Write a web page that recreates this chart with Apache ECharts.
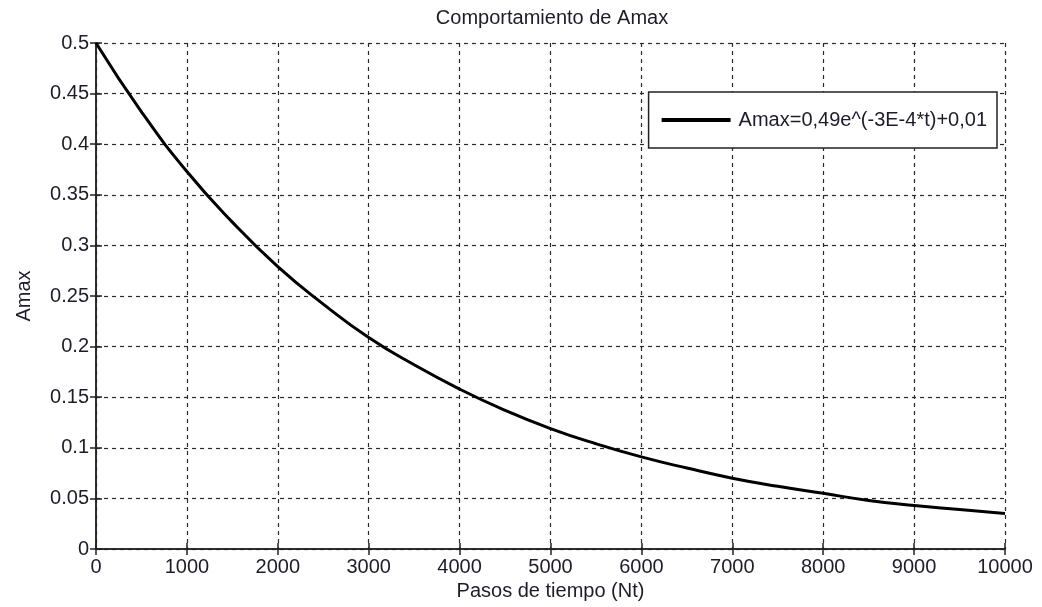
<!DOCTYPE html>
<html>
<head>
<meta charset="utf-8">
<script src="https://cdn.jsdelivr.net/npm/echarts@6/dist/echarts.min.js"></script>
<style>
    html, body { margin: 0; padding: 0; background: #fff; }
    #chart { width: 1042px; height: 607px; }
</style>
</head>
<body>
<div id="chart"></div>
<script>
// pasos de tiempo
let pasos = [0, 500, 1000, 1500, 2000, 2500, 3000, 3500, 4000, 4500, 5000,
    5500, 6000, 6500, 7000, 7500, 8000, 8500, 9000, 9500, 10000];
// valores de Amax
let amax = [0.500, 0.432, 0.373, 0.323, 0.279, 0.242, 0.209, 0.182, 0.158, 0.137, 0.119,
    0.104, 0.091, 0.080, 0.070, 0.062, 0.055, 0.048, 0.043, 0.039, 0.035];
let serieNombre = 'Amax=0,49e^(-3E-4*t)+0,01';

let fuente = '"Liberation Sans", Arial, sans-serif';
let colorTexto = '#1c1c2a';
let tamTexto = 20;

let myChart = echarts.init(document.getElementById('chart'));

let lineaEje = { show: true, lineStyle: { color: '#222', width: 1.5 } };
let rejilla = { show: true, lineStyle: { color: '#2a2a2a', type: [4, 4], width: 1.2 } };
let ticks = { show: true, inside: true, length: 6, lineStyle: { color: '#222', width: 1.5 } };

let option = {
    animation: false,
    backgroundColor: '#fff',
    title: {
        text: 'Comportamiento de Amax',
        left: 552,
        textAlign: 'center',
        top: 8,
        padding: 0,
        textStyle: { fontFamily: fuente, fontSize: tamTexto, fontWeight: 'normal', color: colorTexto }
    },
    legend: {
        data: [serieNombre],
        right: 45,
        top: 92,
        icon: 'rect',
        itemWidth: 69,
        itemHeight: 4,
        itemGap: 0,
        padding: [18, 10, 18, 13],
        backgroundColor: '#fff',
        borderColor: '#222',
        borderWidth: 1.5,
        borderRadius: 0,
        textStyle: { fontFamily: fuente, fontSize: tamTexto, color: colorTexto, padding: [0, 0, 0, 3] }
    },
    grid: {
        left: 96,
        right: 37,
        top: 43,
        bottom: 58,
        containLabel: false
    },
    xAxis: [{
        type: 'value',
        min: 0,
        max: 10000,
        interval: 1000,
        name: 'Pasos de tiempo (Nt)',
        nameLocation: 'middle',
        nameGap: 31,
        nameTextStyle: { fontFamily: fuente, fontSize: tamTexto, color: colorTexto },
        axisLine: lineaEje,
        axisTick: ticks,
        splitLine: rejilla,
        axisLabel: {
            fontFamily: fuente, fontSize: tamTexto, color: colorTexto, margin: 8,
            formatter: function (v) { return String(v); }
        }
    }, {
        type: 'value',
        position: 'top',
        min: 0,
        max: 10000,
        interval: 1000,
        axisLine: lineaEje,
        axisTick: ticks,
        splitLine: { show: false },
        axisLabel: { show: false }
    }],
    yAxis: [{
        type: 'value',
        min: 0,
        max: 0.5,
        interval: 0.05,
        name: 'Amax',
        nameLocation: 'middle',
        nameGap: 62,
        nameTextStyle: { fontFamily: fuente, fontSize: tamTexto, color: colorTexto },
        axisLine: lineaEje,
        axisTick: ticks,
        splitLine: rejilla,
        axisLabel: { fontFamily: fuente, fontSize: tamTexto, color: colorTexto, margin: 7 }
    }, {
        type: 'value',
        position: 'right',
        min: 0,
        max: 0.5,
        interval: 0.05,
        axisLine: lineaEje,
        axisTick: ticks,
        splitLine: { show: false },
        axisLabel: { show: false }
    }],
    series: [{
        name: serieNombre,
        type: 'line',
        data: pasos.map(function (p, i) { return [p, amax[i]]; }),
        smooth: true,
        showSymbol: false,
        symbol: 'none',
        color: '#000',
        lineStyle: { color: '#000', width: 3 }
    }]
};
myChart.setOption(option);
</script>
</body>
</html>
